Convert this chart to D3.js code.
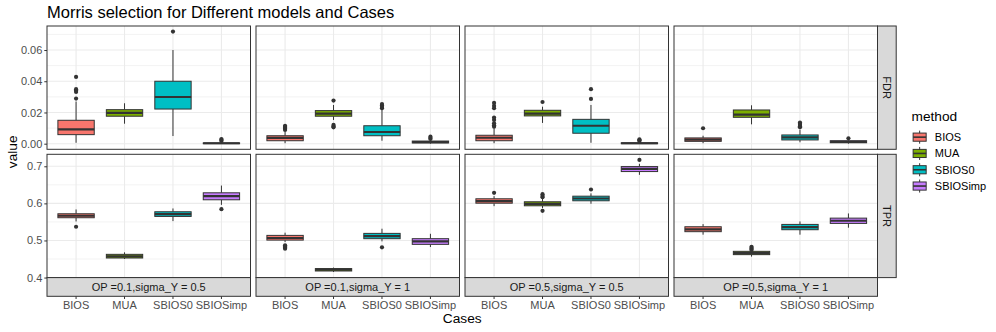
<!DOCTYPE html>
<html>
<head>
<meta charset="utf-8">
<script src="https://cdn.jsdelivr.net/npm/d3@7/dist/d3.min.js"></script>
<style>
  body { margin: 0; background: #fff; }
  text { font-family: "Liberation Sans", Arial, sans-serif; }
</style>
</head>
<body>
<svg id="chart" width="996" height="332"></svg>
<script>
const cases = ["OP =0.1,sigma_Y = 0.5", "OP =0.1,sigma_Y = 1", "OP =0.5,sigma_Y = 0.5", "OP =0.5,sigma_Y = 1"];
const methods = ["BIOS", "MUA", "SBIOS0", "SBIOSimp"];
const metrics = ["FDR", "TPR"];
const methodColors = ["#F8766D", "#7CAE00", "#00BFC4", "#C77CFF"];

// [whisker low, q1, median, q3, whisker high] for each case, then each method
const fdrStats = [
  [[0.0006, 0.0058, 0.0092, 0.0150, 0.0270], [0.0128, 0.0176, 0.0197, 0.0218, 0.0259], [0.0049, 0.0222, 0.0299, 0.0400, 0.0600], [0.0000, 0.0000, 0.0003, 0.0005, 0.0010]],
  [[0.0003, 0.0019, 0.0037, 0.0051, 0.0077], [0.0152, 0.0176, 0.0192, 0.0212, 0.0248], [0.0019, 0.0051, 0.0075, 0.0115, 0.0216], [0.0000, 0.0005, 0.0010, 0.0017, 0.0025]],
  [[0.0003, 0.0019, 0.0038, 0.0054, 0.0099], [0.0133, 0.0178, 0.0192, 0.0214, 0.0237], [0.0006, 0.0067, 0.0115, 0.0156, 0.0248], [0.0000, 0.0000, 0.0003, 0.0006, 0.0012]],
  [[0.0003, 0.0015, 0.0026, 0.0037, 0.0051], [0.0124, 0.0169, 0.0186, 0.0216, 0.0246], [0.0009, 0.0024, 0.0041, 0.0056, 0.0088], [0.0000, 0.0006, 0.0012, 0.0019, 0.0025]]
];
const fdrOutliers = [
  [[0.0289, 0.0331, 0.0340, 0.0349, 0.0428], [], [0.0718], [0.0018, 0.0024, 0.0030]],
  [[0.0088, 0.0095, 0.0102, 0.0108, 0.0115], [0.0105, 0.0112, 0.0120, 0.0276], [0.0227, 0.0235, 0.0244, 0.0254], [0.0030, 0.0037, 0.0045]],
  [[0.0109, 0.0118, 0.0131, 0.0152, 0.0167, 0.0227, 0.0242, 0.0261], [0.0267], [0.0287, 0.0349], [0.0017, 0.0022, 0.0028]],
  [[0.0099], [], [0.0105, 0.0112, 0.0120, 0.0128, 0.0135], [0.0035]]
];
const tprStats = [
  [[0.5513, 0.5613, 0.5667, 0.5720, 0.5836], [0.4500, 0.4527, 0.4573, 0.4626, 0.4680], [0.5522, 0.5648, 0.5710, 0.5774, 0.5863], [0.5960, 0.6097, 0.6194, 0.6285, 0.6480]],
  [[0.4957, 0.5010, 0.5066, 0.5137, 0.5210], [0.4150, 0.4177, 0.4215, 0.4242, 0.4269], [0.4976, 0.5048, 0.5118, 0.5191, 0.5317], [0.4823, 0.4895, 0.4976, 0.5048, 0.5180]],
  [[0.5925, 0.6005, 0.6059, 0.6124, 0.6194], [0.5871, 0.5935, 0.5989, 0.6043, 0.6124], [0.5989, 0.6070, 0.6132, 0.6194, 0.6270], [0.6769, 0.6858, 0.6930, 0.6992, 0.7065]],
  [[0.5156, 0.5237, 0.5298, 0.5370, 0.5441], [0.4565, 0.4618, 0.4661, 0.4707, 0.4730], [0.5156, 0.5290, 0.5360, 0.5433, 0.5513], [0.5344, 0.5460, 0.5532, 0.5602, 0.5728]]
];
const tprOutliers = [
  [[0.5370], [], [], [0.5844]],
  [[0.4780, 0.4810, 0.4840, 0.4870], [], [0.4815], []],
  [[0.6285], [0.5800, 0.6167, 0.6200, 0.6247], [0.6374], [0.7172]],
  [[], [0.4740, 0.4770, 0.4800, 0.4830], [], []]
];
const fdrTicks = [0, 0.02, 0.04, 0.06];
const tprTicks = [0.4, 0.5, 0.6, 0.7];

const svg = d3.select("#chart");
const panelLeft = 47, panelW = 203.5, gapX = 5.5;
const rowTops = [26, 154.3], panelH = 123.3;
const stripSize = 18.7;
const dark = "#333333";
const smallFont = "11px", axisTitleFont = "13.7px";

const rows = [
  {stats: fdrStats, outliers: fdrOutliers, ticks: fdrTicks, fmt: d3.format(".2f")},
  {stats: tprStats, outliers: tprOutliers, ticks: tprTicks, fmt: d3.format(".1f")}
];

const x = d3.scaleBand().domain(methods).range([0, panelW]).paddingInner(0.25).paddingOuter(0.225);
const color = d3.scaleOrdinal().domain(methods).range(methodColors);

rows.forEach((row, r) => {
  const allVals = row.stats.flat(2).concat(row.outliers.flat(2));
  const [lo, hi] = d3.extent(allVals);
  const pad = (hi - lo) * 0.05;
  const y = d3.scaleLinear().domain([lo - pad, hi + pad]).range([rowTops[r] + panelH, rowTops[r]]);
  const step = row.ticks[1] - row.ticks[0];
  const minor = row.ticks.map(t => t + step / 2).filter(v => v < y.domain()[1]);

  cases.forEach((c, i) => {
    const px = panelLeft + i * (panelW + gapX);
    const g = svg.append("g").attr("transform", `translate(${px},0)`);

    g.append("rect").attr("x", 0).attr("y", rowTops[r]).attr("width", panelW).attr("height", panelH)
      .attr("fill", "#fff");

    g.selectAll(".minor").data(minor).join("line")
      .attr("x1", 0).attr("x2", panelW).attr("y1", d => y(d)).attr("y2", d => y(d))
      .attr("stroke", "#ebebeb").attr("stroke-width", 0.6);
    g.selectAll(".major").data(row.ticks).join("line")
      .attr("x1", 0).attr("x2", panelW).attr("y1", d => y(d)).attr("y2", d => y(d))
      .attr("stroke", "#ebebeb").attr("stroke-width", 1.1);
    g.selectAll(".vgrid").data(methods).join("line")
      .attr("x1", d => x(d) + x.bandwidth() / 2).attr("x2", d => x(d) + x.bandwidth() / 2)
      .attr("y1", rowTops[r]).attr("y2", rowTops[r] + panelH)
      .attr("stroke", "#ebebeb").attr("stroke-width", 1.1);

    methods.forEach((m, j) => {
      const s = row.stats[i][j];
      const cx = x(m) + x.bandwidth() / 2;
      const bg = g.append("g");
      bg.append("line").attr("x1", cx).attr("x2", cx).attr("y1", y(s[4])).attr("y2", y(s[3]))
        .attr("stroke", dark).attr("stroke-width", 1);
      bg.append("line").attr("x1", cx).attr("x2", cx).attr("y1", y(s[1])).attr("y2", y(s[0]))
        .attr("stroke", dark).attr("stroke-width", 1);
      bg.append("rect").attr("x", x(m)).attr("y", y(s[3]))
        .attr("width", x.bandwidth()).attr("height", Math.max(0, y(s[1]) - y(s[3])))
        .attr("fill", color(m)).attr("stroke", dark).attr("stroke-width", 1);
      bg.append("line").attr("x1", x(m)).attr("x2", x(m) + x.bandwidth())
        .attr("y1", y(s[2])).attr("y2", y(s[2]))
        .attr("stroke", dark).attr("stroke-width", 2.2);
      bg.selectAll("circle").data(row.outliers[i][j]).join("circle")
        .attr("cx", cx).attr("cy", d => y(d)).attr("r", 2.1).attr("fill", dark);
    });

    g.append("rect").attr("x", 0).attr("y", rowTops[r]).attr("width", panelW).attr("height", panelH)
      .attr("fill", "none").attr("stroke", dark).attr("stroke-width", 1);

    if (i === 0) {
      const ax = svg.append("g").attr("transform", `translate(${panelLeft},0)`)
        .call(d3.axisLeft(y).tickValues(row.ticks).tickFormat(row.fmt).tickSize(2.7).tickPadding(2));
      ax.select(".domain").remove();
      ax.selectAll(".tick line").attr("stroke", dark);
      ax.selectAll(".tick text").attr("fill", "#4d4d4d").style("font-size", smallFont)
        .style("font-family", "'Liberation Sans', Arial, sans-serif");
    }

    if (r === 1) {
      const sy = rowTops[r] + panelH;
      g.append("rect").attr("x", 0).attr("y", sy).attr("width", panelW).attr("height", stripSize)
        .attr("fill", "#d9d9d9").attr("stroke", dark).attr("stroke-width", 1);
      g.append("text").attr("x", panelW / 2).attr("y", sy + stripSize / 2).attr("dy", "0.35em")
        .attr("text-anchor", "middle").attr("fill", "#1a1a1a").style("font-size", smallFont).text(c);
      const xa = g.append("g").attr("transform", `translate(0,${sy + stripSize})`)
        .call(d3.axisBottom(x).tickSize(2.7).tickPadding(2).offset(0));
      xa.select(".domain").remove();
      xa.selectAll(".tick").attr("transform", d => `translate(${x(d) + x.bandwidth() / 2},0)`);
      xa.selectAll(".tick line").attr("stroke", dark);
      xa.selectAll(".tick text").attr("fill", "#4d4d4d").style("font-size", smallFont)
        .style("font-family", "'Liberation Sans', Arial, sans-serif");
    }
  });

  // right strip
  const rx = panelLeft + 4 * panelW + 3 * gapX;
  svg.append("rect").attr("x", rx).attr("y", rowTops[r]).attr("width", stripSize).attr("height", panelH)
    .attr("fill", "#d9d9d9").attr("stroke", dark).attr("stroke-width", 1);
  svg.append("text")
    .attr("transform", `translate(${rx + stripSize / 2},${rowTops[r] + panelH / 2}) rotate(90)`)
    .attr("text-anchor", "middle").attr("dy", "0.35em").attr("fill", "#1a1a1a")
    .style("font-size", smallFont).text(metrics[r]);
});

svg.append("text").attr("x", 47).attr("y", 18).style("font-size", "16.5px").attr("fill", "#000")
  .text("Morris selection for Different models and Cases");

svg.append("text").attr("transform", `translate(16.5,${(rowTops[0] + rowTops[1] + panelH) / 2}) rotate(-90)`)
  .attr("text-anchor", "middle").style("font-size", axisTitleFont).attr("fill", "#000").text("value");

svg.append("text").attr("x", panelLeft + (4 * panelW + 3 * gapX) / 2).attr("y", 323)
  .attr("text-anchor", "middle").style("font-size", axisTitleFont).attr("fill", "#000").text("Cases");

// legend
const legX = 911.5, keySize = 16.3;
const leg = svg.append("g");
leg.append("text").attr("x", legX).attr("y", 121).style("font-size", axisTitleFont).attr("fill", "#000").text("method");
methods.forEach((m, k) => {
  const ky = 129 + k * keySize;
  const kg = leg.append("g").attr("transform", `translate(${legX},${ky})`);
  kg.append("line").attr("x1", keySize / 2).attr("x2", keySize / 2).attr("y1", keySize * 0.1).attr("y2", keySize * 0.9)
    .attr("stroke", dark).attr("stroke-width", 1);
  kg.append("rect").attr("x", keySize * 0.1).attr("y", keySize * 0.25)
    .attr("width", keySize * 0.8).attr("height", keySize * 0.5)
    .attr("fill", color(m)).attr("stroke", dark).attr("stroke-width", 1);
  kg.append("line").attr("x1", keySize * 0.1).attr("x2", keySize * 0.9).attr("y1", keySize / 2).attr("y2", keySize / 2)
    .attr("stroke", dark).attr("stroke-width", 1.6);
  leg.append("text").attr("x", legX + keySize + 7).attr("y", ky + keySize / 2).attr("dy", "0.35em")
    .style("font-size", smallFont).attr("fill", "#000").text(m);
});
</script>
</body>
</html>
